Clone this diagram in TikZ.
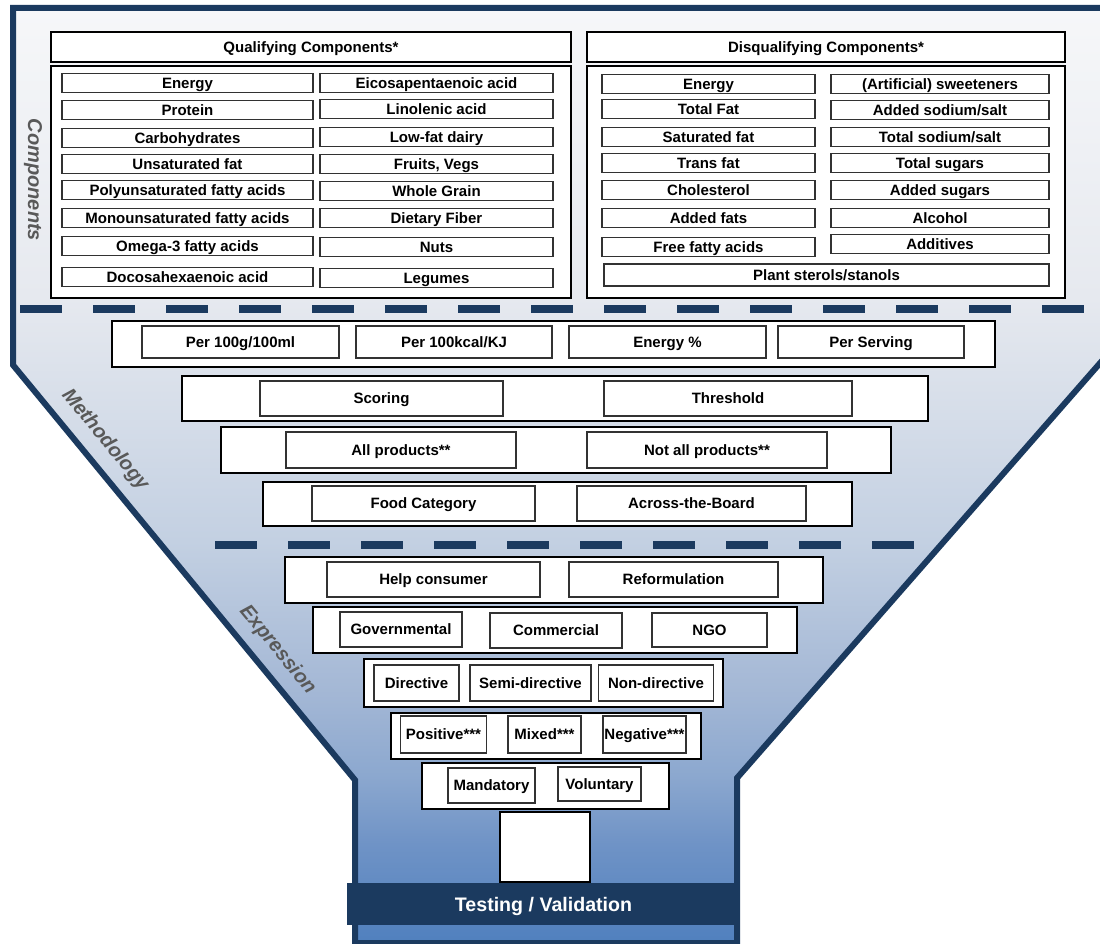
\documentclass[tikz,border=0pt]{standalone}
\usepackage{fontspec}
\setsansfont{Liberation Sans}

\definecolor{navy}{RGB}{27,58,95}
\definecolor{labelgray}{RGB}{89,89,89}
\definecolor{boxgray}{RGB}{50,50,50}
\definecolor{funTop}{RGB}{246,247,249}
\definecolor{funA}{RGB}{230,233,239}
\definecolor{funB}{RGB}{195,208,226}
\definecolor{funF}{RGB}{163,183,213}
\definecolor{funC}{RGB}{140,168,207}
\definecolor{funE}{RGB}{111,147,198}
\definecolor{funD}{RGB}{80,128,190}

\pgfdeclareverticalshading{funnelshade}{100bp}{color(0bp)=(funD); color(25bp)=(funD); color(30.3bp)=(funE); color(34bp)=(funC); color(38.3bp)=(funF); color(46.5bp)=(funB); color(59.5bp)=(funA); color(75bp)=(funTop); color(100bp)=(funTop)}

\tikzset{every picture/.style={line width=0.75pt}}
\tikzset{
  wh/.style 2 args={minimum width=#1*0.75pt, minimum height=#2*0.75pt},
  boxfont/.style={font=\sffamily\bfseries\fontsize{11.25}{13}\selectfont, text height=8pt, text depth=0pt},
  outerbox/.style={draw=black, line width=1.5pt, fill=white, inner sep=1pt, boxfont},
  itembox/.style={draw=boxgray, line width=1.1pt, fill=white, inner sep=1pt, boxfont},
  sepdash/.style={draw=navy, line width=6pt, dash pattern=on 31.5pt off 23.25pt},
  sidelabel/.style={text=labelgray, font=\sffamily\bfseries\itshape\fontsize{15}{18}\selectfont},
}

\begin{document}
\begin{tikzpicture}[x=0.75pt,y=0.75pt,yscale=-1,xscale=1]
\useasboundingbox (0,0) rectangle (1100,944);
\clip (0,0) rectangle (1100,944);

%Funnel
\shadedraw[shading=funnelshade, draw=navy, line width=4.5pt] (13,8) -- (1115,8) -- (1115,346) -- (737,778) -- (737,943) -- (355,943) -- (355,780) -- (13,365) -- cycle ;

%Separators
\draw[sepdash] (20,309.5) -- (1085,309.5) ;
\draw[sepdash] (215,545) -- (915,545) ;

%Components: qualifying
\node[outerbox, wh={520}{30}] (qHead) at (311,47) {Qualifying Components*};
\node[outerbox, wh={520}{232}] (qBody) at (311,182) {};
\node[itembox, wh={251}{19}] (qEnergy) at (187.5,83) {Energy};
\node[itembox, wh={251}{19}] (qProtein) at (187.5,110) {Protein};
\node[itembox, wh={251}{19}] (qCarb) at (187.5,138) {Carbohydrates};
\node[itembox, wh={251}{19}] (qUnsat) at (187.5,164) {Unsaturated fat};
\node[itembox, wh={251}{19}] (qPoly) at (187.5,190) {Polyunsaturated fatty acids};
\node[itembox, wh={251}{19}] (qMono) at (187.5,218) {Monounsaturated fatty acids};
\node[itembox, wh={251}{19}] (qOmega) at (187.5,246) {Omega-3 fatty acids};
\node[itembox, wh={251}{19}] (qDha) at (187.5,277) {Docosahexaenoic acid};
\node[itembox, wh={233}{19}] (qEpa) at (436.5,83) {Eicosapentaenoic acid};
\node[itembox, wh={233}{19}] (qLino) at (436.5,109) {Linolenic acid};
\node[itembox, wh={233}{19}] (qDairy) at (436.5,137) {Low-fat dairy};
\node[itembox, wh={233}{19}] (qFruit) at (436.5,164) {Fruits, Vegs};
\node[itembox, wh={233}{19}] (qGrain) at (436.5,191) {Whole Grain};
\node[itembox, wh={233}{19}] (qFiber) at (436.5,218) {Dietary Fiber};
\node[itembox, wh={233}{19}] (qNuts) at (436.5,247) {Nuts};
\node[itembox, wh={233}{19}] (qLegume) at (436.5,278) {Legumes};

%Components: disqualifying
\node[outerbox, wh={478}{30}] (dHead) at (826,47) {Disqualifying Components*};
\node[outerbox, wh={478}{232}] (dBody) at (826,182) {};
\node[itembox, wh={213}{19}] (dEnergy) at (708.5,84) {Energy};
\node[itembox, wh={213}{19}] (dFat) at (708.5,109) {Total Fat};
\node[itembox, wh={213}{19}] (dSat) at (708.5,137) {Saturated fat};
\node[itembox, wh={213}{19}] (dTrans) at (708.5,163) {Trans fat};
\node[itembox, wh={213}{19}] (dChol) at (708.5,190) {Cholesterol};
\node[itembox, wh={213}{19}] (dAddFat) at (708.5,218) {Added fats};
\node[itembox, wh={213}{19}] (dFree) at (708.5,247) {Free fatty acids};
\node[itembox, wh={218}{19}] (dSweet) at (940,84) {(Artificial) sweeteners};
\node[itembox, wh={218}{19}] (dAddSalt) at (940,110) {Added sodium/salt};
\node[itembox, wh={218}{19}] (dSalt) at (940,137) {Total sodium/salt};
\node[itembox, wh={218}{19}] (dSugar) at (940,163) {Total sugars};
\node[itembox, wh={218}{19}] (dAddSugar) at (940,190) {Added sugars};
\node[itembox, wh={218}{19}] (dAlc) at (940,218) {Alcohol};
\node[itembox, wh={218}{19}] (dAdd) at (940,244) {Additives};
\node[itembox, wh={445}{22}] (dSterol) at (826.5,275) {Plant sterols/stanols};

%Methodology
\node[outerbox, wh={883}{46}] (mUnit) at (553.5,344) {};
\node[itembox, wh={197}{32}] (m100g) at (240.5,342) {Per 100g/100ml};
\node[itembox, wh={196}{32}] (m100kcal) at (454,342) {Per 100kcal/KJ};
\node[itembox, wh={197}{32}] (mEnergy) at (667.5,342) {Energy \%};
\node[itembox, wh={186}{32}] (mServing) at (871,342) {Per Serving};
\node[outerbox, wh={746}{45}] (mType) at (555,398.5) {};
\node[itembox, wh={243}{35}] (mScoring) at (381.5,398.5) {Scoring};
\node[itembox, wh={248}{35}] (mThreshold) at (728,398.5) {Threshold};
\node[outerbox, wh={670}{46}] (mScope) at (556,450) {};
\node[itembox, wh={230}{36}] (mAll) at (401,450) {All products**};
\node[itembox, wh={240}{36}] (mNotAll) at (707,450) {Not all products**};
\node[outerbox, wh={589}{44}] (mBase) at (557.5,504) {};
\node[itembox, wh={223}{35}] (mFood) at (423.5,503.5) {Food Category};
\node[itembox, wh={229}{35}] (mBoard) at (691.5,503.5) {Across-the-Board};

%Expression
\node[outerbox, wh={538}{46}] (eAim) at (554,580) {};
\node[itembox, wh={213}{35}] (eHelp) at (433.5,579.5) {Help consumer};
\node[itembox, wh={209}{35}] (eReform) at (673.5,579.5) {Reformulation};
\node[outerbox, wh={484}{46}] (eOwner) at (555,630) {};
\node[itembox, wh={122}{35}] (eGov) at (401,629.5) {Governmental};
\node[itembox, wh={132}{35}] (eComm) at (556,630.5) {Commercial};
\node[itembox, wh={115}{34}] (eNgo) at (709.5,630) {NGO};
\node[outerbox, wh={359}{48}] (eStyle) at (543.5,683) {};
\node[itembox, wh={85}{36}] (eDir) at (416.5,683) {Directive};
\node[itembox, wh={121}{36}] (eSemi) at (530.5,683) {Semi-directive};
\node[itembox, wh={115}{36}] (eNon) at (656,683) {Non-directive};
\node[outerbox, wh={310}{46}] (eTone) at (546,736) {};
\node[itembox, wh={86}{37}] (ePos) at (443.5,734.5) {Positive***};
\node[itembox, wh={73}{37}] (eMixed) at (544.5,734.5) {Mixed***};
\node[itembox, wh={83}{37}] (eNeg) at (644.5,734.5) {Negative***};
\node[outerbox, wh={247}{46}] (eLaw) at (545.5,786) {};
\node[itembox, wh={87}{35}] (eMand) at (491.5,785.5) {Mandatory};
\node[itembox, wh={83}{34}] (eVol) at (599.5,784) {Voluntary};
\node[outerbox, wh={90}{70}] (eOut) at (545,847) {};

%Testing bar
\node[fill=navy, wh={393}{42}, inner sep=0pt, text=white, font=\sffamily\bfseries\fontsize{14.7}{17}\selectfont, text height=10.5pt, text depth=0pt] (test) at (543.5,904) {Testing / Validation};

%Side labels
\node[sidelabel, rotate=-90] (lblComp) at (33,180) {Components};
\node[sidelabel, rotate=-50.5] (lblMeth) at (105,440) {Methodology};
\node[sidelabel, rotate=-50.5] (lblExpr) at (277.5,650) {Expression};

\end{tikzpicture}
\end{document}
